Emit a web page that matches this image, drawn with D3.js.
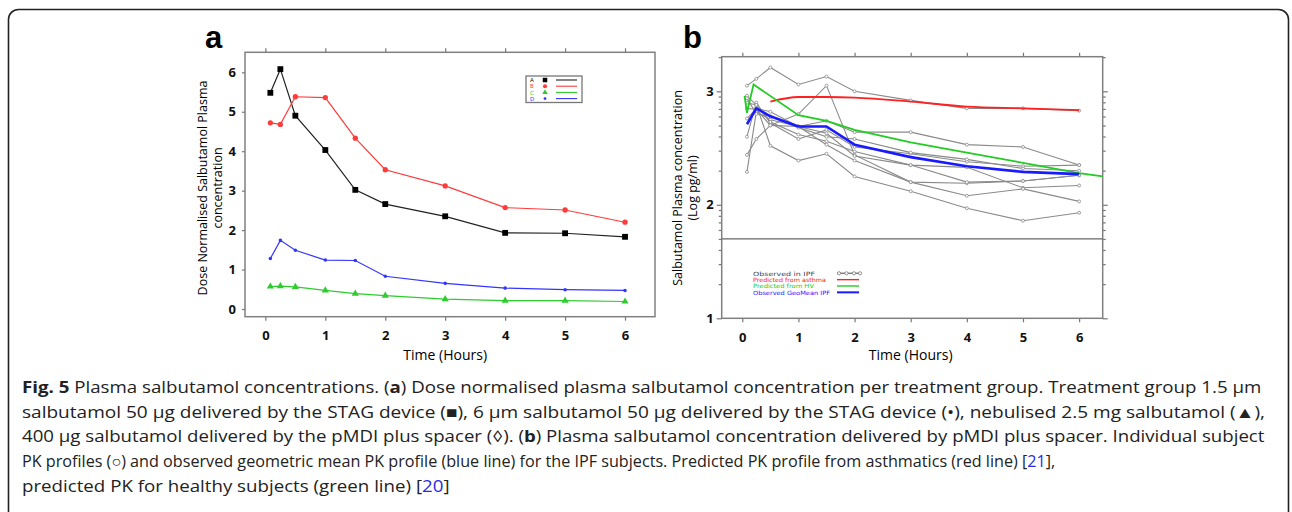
<!DOCTYPE html>
<html>
<head>
<meta charset="utf-8">
<script src="https://cdn.jsdelivr.net/npm/d3@7"></script>
<style>
  body { margin: 0; background: #fff; }
  svg { display: block; }
</style>
</head>
<body>
<svg id="fig" width="1292" height="512"></svg>
<script>
// ---------------- data, panel a ----------------
var timesA = [0.083, 0.25, 0.5, 1, 1.5, 2, 3, 4, 5, 6];
var groupNames = ["A", "B", "C", "D"];
var groupA = [5.48, 6.08, 4.90, 4.03, 3.02, 2.66, 2.35, 1.93, 1.92, 1.83];
var groupB = [4.72, 4.68, 5.38, 5.36, 4.33, 3.53, 3.12, 2.57, 2.51, 2.20];
var groupC = [0.57, 0.58, 0.56, 0.47, 0.39, 0.34, 0.25, 0.21, 0.21, 0.19];
var groupD = [1.28, 1.74, 1.49, 1.24, 1.23, 0.83, 0.65, 0.53, 0.49, 0.47];
var groupColors = ["#222222", "#ff3b3b", "#2ecc2e", "#3434ff"];
var xTicksA = [0, 1, 2, 3, 4, 5, 6];
var yTicksA = [0, 1, 2, 3, 4, 5, 6];

// ---------------- data, panel b (log10 pg/ml) ----------------
var timesB = [0.083, 0.25, 0.5, 1, 1.5, 2, 3, 4, 5, 6];
var subject1 = [3.05, 3.11, 3.21, 3.06, 3.13, 3.00, 2.92, 2.85, 2.85, 2.83];
var subject2 = [2.44, 2.58, 2.70, 2.80, 3.05, 2.44, 2.20, 2.19, 2.21, 2.26];
var subject3 = [2.96, 2.88, 2.52, 2.39, 2.45, 2.25, 2.12, 1.97, 1.86, 1.93];
var subject4 = [2.76, 2.85, 2.82, 2.69, 2.74, 2.64, 2.64, 2.53, 2.51, 2.35];
var subject5 = [2.60, 2.90, 2.72, 2.58, 2.66, 2.51, 2.45, 2.38, 2.34, 2.35];
var subject6 = [2.29, 2.82, 2.75, 2.69, 2.63, 2.43, 2.35, 2.20, 2.21, 2.26];
var subject7 = [2.90, 2.88, 2.73, 2.62, 2.56, 2.47, 2.35, 2.33, 2.15, 2.17];
var subject8 = [2.85, 2.84, 2.70, 2.69, 2.53, 2.39, 2.20, 2.08, 2.14, 2.03];
var subject9 = [2.94, 2.80, 2.78, 2.68, 2.60, 2.58, 2.46, 2.40, 2.32, 2.30];
var asthmaT = [0.5, 1, 1.5, 2, 3, 4, 5, 6];
var asthmaV = [2.91, 2.95, 2.95, 2.945, 2.91, 2.865, 2.85, 2.835];
var hvT = [0.04, 0.083, 0.2, 1, 1.5, 2, 3, 4, 5, 6, 6.42];
var hvV = [2.96, 2.81, 3.06, 2.79, 2.74, 2.66, 2.55, 2.46, 2.37, 2.28, 2.25];
var geoT = [0.083, 0.25, 0.5, 1, 1.5, 2, 3, 4, 5, 6];
var geoV = [2.71, 2.85, 2.78, 2.69, 2.69, 2.53, 2.42, 2.34, 2.29, 2.27];
var legendB = ["Observed in IPF", "Predicted from asthma", "Predicted from HV", "Observed GeoMean IPF"];
var legendBWidths = [62, 73, 61, 77];
var legendBColors = ["#444444", "#ff2020", "#22cc22", "#1a1aff"];
var xTicksB = [0, 1, 2, 3, 4, 5, 6];
var yTicksB = [1, 2, 3];

var svg = d3.select("svg#fig");
var tickFont = "'Open Sans', 'DejaVu Sans', sans-serif";

// outer rounded frame
svg.append("rect")
    .attr("x", 8.5).attr("y", 9.5)
    .attr("width", 1280).attr("height", 560)
    .attr("rx", 10)
    .style("fill", "none")
    .style("stroke", "#222")
    .style("stroke-width", 1.6);

// panel letters
svg.append("text").attr("x", 205).attr("y", 48).text("a")
    .style("font", "bold 31px 'Liberation Sans', Arial, sans-serif");
svg.append("text").attr("x", 683).attr("y", 48).text("b")
    .style("font", "bold 31px 'Liberation Sans', Arial, sans-serif");

function styleAxis(g) {
  g.selectAll("path").remove();
  g.selectAll("line").style("stroke", "#777").style("stroke-width", 1.2);
  g.selectAll("text")
      .style("font-family", tickFont)
      .style("font-weight", "bold")
      .style("font-size", "13px")
      .style("fill", "#111");
}

// ------------------- panel a --------------------------------------
var xa = d3.scaleLinear().domain([-0.34, 6.5]).range([245, 655]),
    ya = d3.scaleLinear().domain([-0.195, 6.507]).range([316.7, 52.3]);

svg.append("g")
    .attr("transform", "translate(0," + ya.range()[0] + ")")
    .call(d3.axisBottom(xa).tickValues(xTicksA).tickSize(4).tickPadding(10).tickFormat(d3.format("d")))
    .call(styleAxis);
svg.append("g")
    .attr("transform", "translate(0," + ya.range()[1] + ")")
    .call(d3.axisTop(xa).tickValues(xTicksA).tickSize(4).tickFormat(""))
    .call(styleAxis);
svg.append("g")
    .attr("transform", "translate(" + xa.range()[0] + ",0)")
    .call(d3.axisLeft(ya).tickValues(yTicksA).tickSize(3).tickPadding(6).tickFormat(d3.format("d")))
    .call(styleAxis);

svg.append("rect")
    .attr("x", xa.range()[0]).attr("y", ya.range()[1])
    .attr("width", xa.range()[1] - xa.range()[0])
    .attr("height", ya.range()[0] - ya.range()[1])
    .style("fill", "none").style("stroke", "#808080").style("stroke-width", 1.5);

// axis titles
svg.append("text")
    .attr("x", (xa(0) + xa(6)) / 2).attr("y", 360)
    .style("text-anchor", "middle")
    .style("font", "14px " + tickFont)
    .text("Time (Hours)");
svg.append("text")
    .attr("transform", "translate(207,188) rotate(-90)")
    .style("text-anchor", "middle")
    .style("font", "12.5px " + tickFont)
    .text("Dose Normalised Salbutamol Plasma");
svg.append("text")
    .attr("transform", "translate(222,188) rotate(-90)")
    .style("text-anchor", "middle")
    .style("font", "12.5px " + tickFont)
    .text("concentration");

var lineA = d3.line()
    .x(function(d) { return xa(d[0]); })
    .y(function(d) { return ya(d[1]); });

var groups = [groupA, groupB, groupC, groupD];
var symbols = [d3.symbolSquare, d3.symbolCircle, d3.symbolTriangle, d3.symbolCircle];
var symSizes = [34, 22, 22, 10];

groups.forEach(function(vals, gi) {
  var pts = timesA.map(function(t, i) { return [t, vals[i]]; });
  svg.append("path")
      .datum(pts)
      .attr("d", lineA)
      .style("fill", "none")
      .style("stroke", groupColors[gi])
      .style("stroke-width", 1.2);
  svg.append("g").selectAll("path")
      .data(pts)
    .enter().append("path")
      .attr("transform", function(d) { return "translate(" + xa(d[0]) + "," + ya(d[1]) + ")"; })
      .attr("d", d3.symbol().type(symbols[gi]).size(symSizes[gi]))
      .style("fill", gi == 0 ? "#000" : groupColors[gi]);
});

// legend a
var legA = svg.append("g").attr("transform", "translate(526,76)");
legA.append("rect")
    .attr("width", 56).attr("height", 26.5)
    .style("fill", "#fff").style("stroke", "#777").style("stroke-width", 1.3);
groupNames.forEach(function(n, i) {
  var yy = 4 + i * 6.2;
  legA.append("text")
      .attr("x", 4).attr("y", yy + 2.2)
      .style("font", "5.6px 'DejaVu Sans', sans-serif")
      .style("fill", groupColors[i])
      .text(n);
  legA.append("path")
      .attr("transform", "translate(19," + yy + ")")
      .attr("d", d3.symbol().type(symbols[i]).size(symSizes[i] * 0.6))
      .style("fill", i == 0 ? "#000" : groupColors[i]);
  legA.append("line")
      .attr("x1", 30).attr("x2", 51).attr("y1", yy).attr("y2", yy)
      .style("stroke", groupColors[i]).style("stroke-width", 1.1);
});

// ------------------- panel b --------------------------------------
var xb = d3.scaleLinear().domain([-0.367, 6.42]).range([721.7, 1102.7]),
    yb = d3.scaleLinear().domain([1, 3.305]).range([318.3, 56.7]);

var minorB = [];
[1, 2, 3].forEach(function(dd) {
  for (var k = 2; k <= 9; k++) {
    var v = dd + Math.log10(k);
    if (v <= 3.305) minorB.push(v);
  }
});

svg.append("g")
    .attr("transform", "translate(0," + yb.range()[0] + ")")
    .call(d3.axisBottom(xb).tickValues(xTicksB).tickSize(4).tickPadding(10).tickFormat(d3.format("d")))
    .call(styleAxis);
svg.append("g")
    .attr("transform", "translate(0," + yb.range()[1] + ")")
    .call(d3.axisTop(xb).tickValues(xTicksB).tickSize(4).tickFormat(""))
    .call(styleAxis);
svg.append("g")
    .attr("transform", "translate(" + xb.range()[0] + ",0)")
    .call(d3.axisLeft(yb).tickValues(yTicksB).tickSize(5).tickPadding(3).tickFormat(d3.format("d")))
    .call(styleAxis);
svg.append("g")
    .attr("transform", "translate(" + xb.range()[0] + ",0)")
    .call(d3.axisLeft(yb).tickValues(minorB).tickSize(3).tickFormat(""))
    .call(styleAxis);
svg.append("g")
    .attr("transform", "translate(" + xb.range()[1] + ",0)")
    .call(d3.axisRight(yb).tickValues(yTicksB).tickSize(5).tickFormat(""))
    .call(styleAxis);
svg.append("g")
    .attr("transform", "translate(" + xb.range()[1] + ",0)")
    .call(d3.axisRight(yb).tickValues(minorB).tickSize(3).tickFormat(""))
    .call(styleAxis);

svg.append("rect")
    .attr("x", xb.range()[0]).attr("y", yb.range()[1])
    .attr("width", xb.range()[1] - xb.range()[0])
    .attr("height", yb.range()[0] - yb.range()[1])
    .style("fill", "none").style("stroke", "#808080").style("stroke-width", 1.5);

// horizontal reference line
svg.append("line")
    .attr("x1", xb.range()[0]).attr("x2", xb.range()[1])
    .attr("y1", yb(1.7)).attr("y2", yb(1.7))
    .style("stroke", "#666").style("stroke-width", 1.2);

svg.append("text")
    .attr("x", (xb(0) + xb(6)) / 2).attr("y", 360)
    .style("text-anchor", "middle")
    .style("font", "14px " + tickFont)
    .text("Time (Hours)");
svg.append("text")
    .attr("transform", "translate(682,188) rotate(-90)")
    .style("text-anchor", "middle")
    .style("font", "12.5px " + tickFont)
    .text("Salbutamol Plasma concentration");
svg.append("text")
    .attr("transform", "translate(697,188) rotate(-90)")
    .style("text-anchor", "middle")
    .style("font", "12.5px " + tickFont)
    .text("(Log pg/ml)");

var lineB = d3.line()
    .x(function(d) { return xb(d[0]); })
    .y(function(d) { return yb(d[1]); });

var subjects = [subject1, subject2, subject3, subject4, subject5, subject6, subject7, subject8, subject9];
subjects.forEach(function(vals) {
  var pts = timesB.map(function(t, i) { return [t, vals[i]]; });
  svg.append("path")
      .datum(pts)
      .attr("d", lineB)
      .style("fill", "none")
      .style("stroke", "#8a8a8a")
      .style("stroke-width", 1.1);
  svg.append("g").selectAll("circle")
      .data(pts)
    .enter().append("circle")
      .attr("cx", function(d) { return xb(d[0]); })
      .attr("cy", function(d) { return yb(d[1]); })
      .attr("r", 1.5)
      .style("fill", "#fff")
      .style("stroke", "#8a8a8a")
      .style("stroke-width", 0.8);
});

function zipPts(ts, vs) { return ts.map(function(t, i) { return [t, vs[i]]; }); }

svg.append("path")
    .datum(zipPts(asthmaT, asthmaV))
    .attr("d", lineB.curve(d3.curveMonotoneX))
    .style("fill", "none").style("stroke", legendBColors[1]).style("stroke-width", 1.8);
lineB.curve(d3.curveLinear);
svg.append("path")
    .datum(zipPts(hvT, hvV))
    .attr("d", lineB)
    .style("fill", "none").style("stroke", legendBColors[2]).style("stroke-width", 1.8);
svg.append("path")
    .datum(zipPts(geoT, geoV))
    .attr("d", lineB)
    .style("fill", "none").style("stroke", legendBColors[3]).style("stroke-width", 2.6)
    .style("stroke-linejoin", "round");

// legend b
var legB = svg.append("g").attr("transform", "translate(753,273.3)");
legendB.forEach(function(n, i) {
  var yy = i * 6.35;
  legB.append("text")
      .attr("x", 0).attr("y", yy + 2.2)
      .attr("textLength", legendBWidths[i])
      .attr("lengthAdjust", "spacingAndGlyphs")
      .style("font", "5.8px 'DejaVu Sans', sans-serif")
      .style("fill", legendBColors[i])
      .text(n);
  legB.append("line")
      .attr("x1", 84).attr("x2", 106).attr("y1", yy).attr("y2", yy)
      .style("stroke", i == 0 ? "#777" : legendBColors[i])
      .style("stroke-width", i == 3 ? 2 : 1.4);
});
legB.selectAll("circle.lg")
    .data([86, 93.5, 101, 107])
  .enter().append("circle")
    .attr("cx", function(d) { return d; }).attr("cy", 0).attr("r", 1.6)
    .style("fill", "#fff").style("stroke", "#777").style("stroke-width", 0.8);

// ------------------- caption --------------------------------------
var captionLines = [
  [["Fig. 5", "b"], [" Plasma salbutamol concentrations. (", ""], ["a", "b"], [") Dose normalised plasma salbutamol concentration per treatment group. Treatment group 1.5 \u03bcm", ""]],
  [["salbutamol 50 \u03bcg delivered by the STAG device (\u25a0), 6 \u03bcm salbutamol 50 \u03bcg delivered by the STAG device (\u2022), nebulised 2.5 mg salbutamol (\u25b2),", ""]],
  [["400 \u03bcg salbutamol delivered by the pMDI plus spacer (\u25ca). (", ""], ["b", "b"], [") Plasma salbutamol concentration delivered by pMDI plus spacer. Individual subject", ""]],
  [["PK profiles (\u25cb) and observed geometric mean PK profile (blue line) for the IPF subjects. Predicted PK profile from asthmatics (red line) [", ""], ["21", "l"], ["],", ""]],
  [["predicted PK for healthy subjects (green line) [", ""], ["20", "l"], ["]", ""]]
];
var captionRight = [1262, 1266, 1266, 1056, 450];

captionLines.forEach(function(parts, li) {
  var t = svg.append("text")
      .attr("x", 22).attr("y", 393 + li * 24.7)
      .style("font", "16px 'Open Sans', sans-serif")
      .style("fill", "#222");
  parts.forEach(function(p) {
    t.append("tspan")
        .text(p[0])
        .style("font-weight", p[1] == "b" ? "bold" : "normal")
        .style("fill", p[1] == "l" ? "#2a2adf" : "#222");
  });
  var s = (captionRight[li] - 22) / t.node().getBBox().width;
  t.attr("transform", "translate(22,0) scale(" + s + ",1) translate(-22,0)");
});
</script>
</body>
</html>
